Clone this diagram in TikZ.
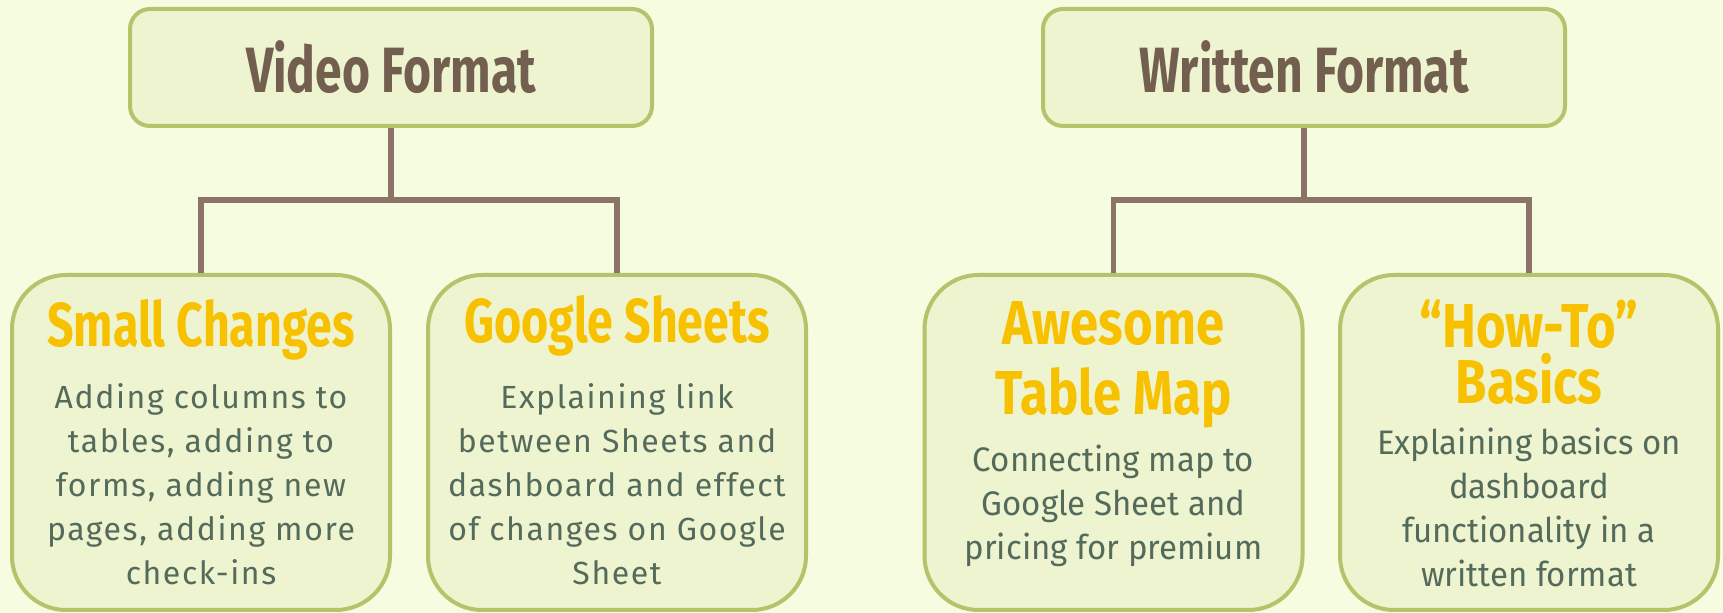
\documentclass[tikz,border=0pt]{standalone}
\usepackage{fontspec}
\usepackage{tikz}
\usetikzlibrary{calc}
\setmainfont{Fira Sans}
\newfontfamily\titlefont[FakeStretch=0.75]{Fira Sans}
\newfontfamily\widetitlefont[FakeStretch=0.82]{Fira Sans}
\newfontfamily\bodyfont[LetterSpace=5]{Fira Sans}
\newfontfamily\narrowfont[FakeStretch=0.97]{Fira Sans}
\definecolor{page_bg}{HTML}{F6FCE0}
\definecolor{box_fill}{HTML}{EDF4CF}
\definecolor{box_line}{HTML}{B5C36A}
\definecolor{stem_brown}{HTML}{8B7367}
\definecolor{head_brown}{HTML}{725F4F}
\definecolor{title_gold}{HTML}{F8C100}
\definecolor{body_green}{HTML}{546B5C}

\begin{document}
\begin{tikzpicture}[x=0.5pt,y=-0.5pt,
    topbox/.style={draw=box_line,fill=box_fill,line width=2pt,rounded corners=10pt,
        minimum width=261pt,minimum height=58.5pt,inner sep=0pt,
        text=head_brown,font=\titlefont\bfseries\fontsize{32}{36}\selectfont},
    childbox/.style={draw=box_line,fill=box_fill,line width=2pt,rounded corners=27pt,
        minimum width=189pt,minimum height=167.5pt,inner sep=0pt},
    childtitle/.style={anchor=base,align=center,inner sep=0pt,text=title_gold,
        font=\titlefont\bfseries\fontsize{31}{#1}\selectfont},
    childtitle/.default=35,
    writtentitle/.style={childtitle,font=\widetitlefont\bfseries\fontsize{31}{#1}\selectfont},
    childbody/.style={anchor=base,align=center,inner sep=0pt,text=body_green,
        font=\bodyfont\fontsize{16}{22}\selectfont},
    writtenbody/.style={childbody,font=\narrowfont\fontsize{17}{22}\selectfont},
    conn/.style={draw=stem_brown,line width=2.8pt}]

                    \fill[page_bg] (0,0) rectangle (1723,613);
                    \useasboundingbox (0,0) rectangle (1723,613);

                    % top boxes
                    \node[topbox] (video) at (391,67.5) {Video Format};
                    \node[topbox] (written) at (1304,67.5) {Written Format};

                    % children (multi-line texts sit on their last baseline)
                    \node[childbox] (small) at (201,442.5) {};
                    \node[childbox] (google) at (617,442.5) {};
                    \node[childbox] (awesome) at (1113.5,442.5) {};
                    \node[childbox] (howto) at (1529,442.5) {};

                    \node[childtitle] (smallT) at (201,347) {Small Changes};
                    \node[childbody] (smallB) at (201,585)
                        {Adding columns to\\tables, adding to\\forms, adding new\\pages, adding more\\check-ins};

                    \node[childtitle] (googleT) at (617,343) {Google Sheets};
                    \node[childbody] (googleB) at (617,585)
                        {Explaining link\\between Sheets and\\dashboard and effect\\of changes on Google\\Sheet};

                    \node[writtentitle=35] (awesomeT) at (1113.5,415) {Awesome\\Table Map};
                    \node[writtenbody] (awesomeB) at (1113.5,560)
                        {Connecting map to\\Google Sheet and\\pricing for premium};

                    \node[writtentitle=28] (howtoT) at (1529,404) {“How-To”\\Basics};
                    \node[writtenbody] (howtoB) at (1529,587)
                        {Explaining basics on\\dashboard\\functionality in a\\written format};

                    % connectors
                    \coordinate (vj) at (391,200);
                    \coordinate (wj) at (1304,200);
                    \draw[conn] (video.south) -- (vj);
                    \draw[conn] (small.north) |- (vj) -| (google.north);
                    \draw[conn] (written.south) -- (wj);
                    \draw[conn] (awesome.north) |- (wj) -| (howto.north);
                \end{tikzpicture}
\end{document}
